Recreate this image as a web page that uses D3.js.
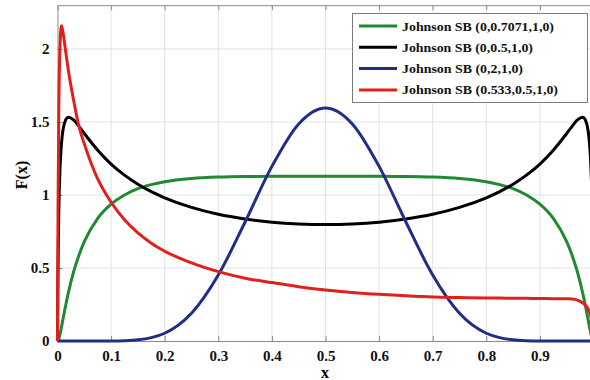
<!DOCTYPE html>
<html>
<head>
<meta charset="utf-8">
<script src="https://cdn.jsdelivr.net/npm/d3@7"></script>
<style>
  body { margin: 0; background: #fff; }
  text { font-family: "Liberation Serif", "Times New Roman", serif; font-weight: bold; }
</style>
</head>
<body>
<div id="chartVis"></div>
<script>
// data
var xs = [0, 0.001, 0.0025, 0.005, 0.0075, 0.01, 0.015, 0.02, 0.03, 0.04, 0.05, 0.075, 0.1, 0.125, 0.15, 0.175, 0.2, 0.25, 0.3, 0.35, 0.4, 0.45, 0.5,
  0.55, 0.6, 0.65, 0.7, 0.75, 0.8, 0.825, 0.85, 0.875, 0.9, 0.925, 0.95, 0.96, 0.97, 0.98, 0.985, 0.99, 0.9925, 0.995, 0.9975, 0.999, 1];

var greenVals = [0, 0.002, 0.014, 0.052, 0.097, 0.145, 0.24, 0.326, 0.473, 0.588, 0.68, 0.84, 0.937, 1.0, 1.043, 1.071, 1.091, 1.113, 1.123, 1.127, 1.128, 1.128, 1.128,
  1.128, 1.128, 1.127, 1.123, 1.113, 1.091, 1.071, 1.043, 1.0, 0.937, 0.84, 0.68, 0.588, 0.473, 0.326, 0.24, 0.145, 0.097, 0.052, 0.014, 0.002, 0];

var blackVals = [0, 0.515, 0.903, 1.207, 1.356, 1.439, 1.512, 1.532, 1.514, 1.47, 1.421, 1.307, 1.212, 1.136, 1.074, 1.023, 0.981, 0.915, 0.868, 0.836, 0.814, 0.802, 0.798,
  0.802, 0.814, 0.836, 0.868, 0.915, 0.981, 1.023, 1.074, 1.136, 1.212, 1.307, 1.421, 1.47, 1.514, 1.532, 1.512, 1.439, 1.356, 1.207, 0.903, 0.515, 0];

var blueVals = [0, 0, 0, 0, 0, 0, 0, 0, 0, 0, 0, 0, 0, 0.002, 0.008, 0.023, 0.053, 0.19, 0.452, 0.815, 1.196, 1.487, 1.596,
  1.487, 1.196, 0.815, 0.452, 0.19, 0.053, 0.023, 0.008, 0.002, 0, 0, 0, 0, 0, 0, 0, 0, 0, 0, 0, 0, 0];

var redVals = [0, 0.9, 1.6, 2.05, 2.16, 2.12, 1.99, 1.86, 1.65, 1.47, 1.35, 1.11, 0.95, 0.83, 0.74, 0.67, 0.615, 0.535, 0.475, 0.43, 0.4, 0.372, 0.35,
  0.333, 0.32, 0.31, 0.302, 0.298, 0.295, 0.294, 0.293, 0.292, 0.291, 0.29, 0.289, 0.288, 0.28, 0.26, 0.245, 0.22, 0.2, 0.17, 0.12, 0.06, 0];

var seriesNames = ["Johnson SB (0,0.7071,1,0)", "Johnson SB (0,0.5,1,0)", "Johnson SB (0,2,1,0)", "Johnson SB (0.533,0.5,1,0)"];
var seriesColors = ["#1e8a32", "#000000", "#1f2e86", "#e0201c"];
var seriesVals = [greenVals, blackVals, blueVals, redVals];

var xTicks = [0, 0.1, 0.2, 0.3, 0.4, 0.5, 0.6, 0.7, 0.8, 0.9, 1];
var yTicks = [0, 0.5, 1, 1.5, 2];

var width = 590;
var height = 380;

var svg = d3.select("#chartVis")
  .append("svg")
  .attr("width", width)
  .attr("height", height);

var xScale = d3.scaleLinear().domain([0, 1]).range([57.5, 593.5]);
var yScale = d3.scaleLinear().domain([0, 2.3]).range([341, 5.2]);

var plotLeft = xScale(0), plotRight = xScale(1), plotTop = yScale(2.3), plotBottom = yScale(0);

// grid
svg.append("g").selectAll("line")
  .data(xTicks.slice(1)).enter()
  .append("line")
  .attr("x1", d => xScale(d)).attr("x2", d => xScale(d))
  .attr("y1", plotTop).attr("y2", plotBottom)
  .attr("stroke", "#e2e2e2").attr("stroke-width", 1);

svg.append("g").selectAll("line")
  .data(yTicks.slice(1)).enter()
  .append("line")
  .attr("x1", plotLeft).attr("x2", plotRight)
  .attr("y1", d => yScale(d)).attr("y2", d => yScale(d))
  .attr("stroke", "#e2e2e2").attr("stroke-width", 1);

// axes with inward ticks
var xAxis = svg.append("g")
  .attr("transform", "translate(0," + plotBottom + ")")
  .call(d3.axisBottom(xScale).tickValues(xTicks).tickSizeInner(-5).tickSizeOuter(0).tickPadding(9)
    .tickFormat(d => d === 1 ? "" : String(d)));
var xAxisTop = svg.append("g")
  .attr("transform", "translate(0," + plotTop + ")")
  .call(d3.axisTop(xScale).tickValues(xTicks).tickSizeInner(-5).tickSizeOuter(0).tickFormat(""));
var yAxis = svg.append("g")
  .attr("transform", "translate(" + plotLeft + ",0)")
  .call(d3.axisLeft(yScale).tickValues(yTicks).tickSizeInner(-5).tickSizeOuter(0).tickPadding(8)
    .tickFormat(d => String(d)));

[xAxis, xAxisTop, yAxis].forEach(function(ax) {
  ax.select(".domain").attr("stroke", "#8a8a8a");
  ax.selectAll(".tick line").attr("stroke", "#8a8a8a");
  ax.selectAll("text").attr("font-size", 15).attr("fill", "#111")
    .style("font-family", "'Liberation Serif', serif").style("font-weight", "bold");
});

// curves
svg.append("clipPath").attr("id", "plotClip")
  .append("rect").attr("x", plotLeft - 2).attr("y", plotTop).attr("width", plotRight - plotLeft + 4).attr("height", plotBottom - plotTop + 2);

var line = d3.line()
  .x(d => xScale(d[0]))
  .y(d => yScale(d[1]))
  .curve(d3.curveMonotoneX);

var curves = svg.append("g").attr("clip-path", "url(#plotClip)");
for (let i = 0; i < seriesVals.length; i++) {
  var pts = xs.map((x, k) => [x, seriesVals[i][k]]);
  curves.append("path")
    .datum(pts)
    .attr("d", line)
    .attr("fill", "none")
    .attr("stroke", seriesColors[i])
    .attr("stroke-width", 3)
    .attr("stroke-linejoin", "round");
}

// legend
var legendWidths = [152, 131, 121, 156];
var legend = svg.append("g");
legend.append("rect")
  .attr("x", 352.5).attr("y", 13.5)
  .attr("width", 235).attr("height", 89)
  .attr("fill", "#fff")
  .attr("stroke", "#7a7a7a");

for (let i = 0; i < seriesNames.length; i++) {
  var ly = 26 + i * 21.3;
  legend.append("line")
    .attr("x1", 359).attr("x2", 397)
    .attr("y1", ly).attr("y2", ly)
    .attr("stroke", seriesColors[i]).attr("stroke-width", 3);
  legend.append("text")
    .attr("x", 402).attr("y", ly + 4.5)
    .attr("font-size", 13.5)
    .attr("fill", "#111")
    .attr("textLength", legendWidths[i])
    .attr("lengthAdjust", "spacingAndGlyphs")
    .text(seriesNames[i]);
}

// axis titles
svg.append("text")
  .attr("x", 325).attr("y", 378)
  .attr("text-anchor", "middle")
  .attr("font-size", 16)
  .text("x");

svg.append("text")
  .attr("transform", "translate(27,175) rotate(-90)")
  .attr("text-anchor", "middle")
  .attr("font-size", 16)
  .text("F(x)");
</script>
</body>
</html>
